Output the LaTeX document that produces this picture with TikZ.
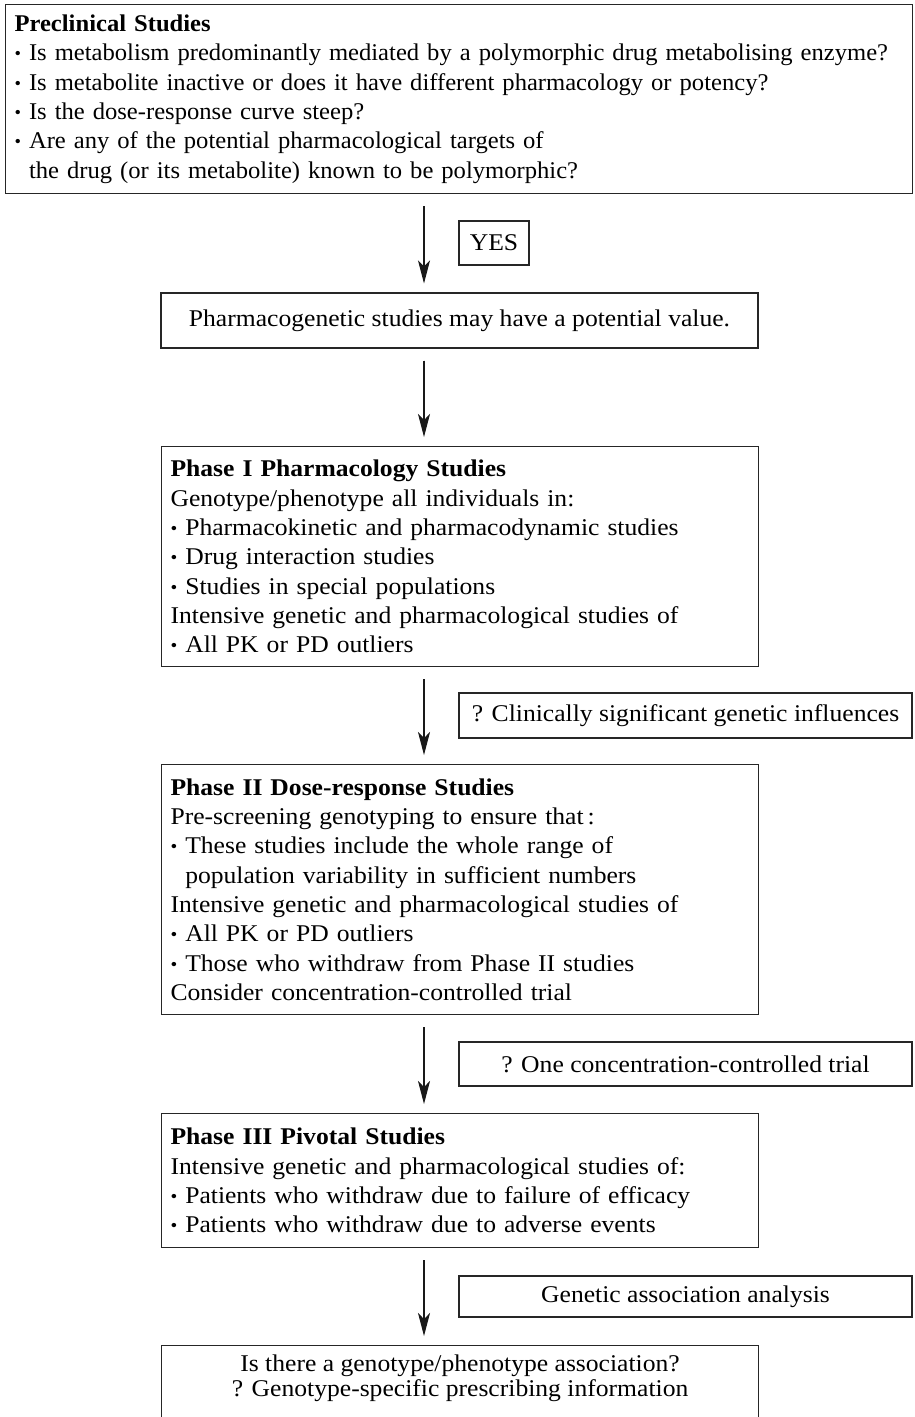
\documentclass[tikz,border=0pt]{standalone}
\usepackage{graphicx}
\usepackage{fontspec}
\setmainfont[FakeStretch=1.067]{Liberation Serif}
\newfontfamily\topfont[FakeStretch=1.025]{Liberation Serif}
\usetikzlibrary{arrows.meta}
\newcommand{\bul}{\raisebox{0.04em}{\scalebox{0.75}{\textbullet}}\ }
\newcommand{\bulind}{\phantom{\bul}}
\tikzset{
  box/.style={draw=black!85, line width=1.1pt, inner xsep=9pt, inner ysep=0pt,
    font=\fontsize{24}{29.3}\selectfont, align=left, anchor=north west},
  lab/.style={draw=black!85, line width=1.1pt, inner sep=0pt,
    font=\fontsize{24}{29.3}\selectfont, align=center},
  arr/.style={-{Stealth[length=23pt,width=12pt,inset=6pt]}, line width=1.1pt,
    draw=black!90, fill=black!90, shorten <=12pt, shorten >=9pt}
}
\begin{document}
\begin{tikzpicture}[x=1pt,y=-1pt]
\clip (0,0) rectangle (914,1417);
\fill[white] (0,0) rectangle (914,1417);
\coordinate (ax) at (424,0);

\node[box, text width=889pt, minimum height=189pt,
  font=\topfont\fontsize{24}{29.3}\selectfont] (pre) at (5,4) {%
\textbf{Preclinical Studies}\\
\mbox{\bul Is metabolism predominantly mediated by a polymorphic drug metabolising enzyme?}\\
\mbox{\bul Is metabolite inactive or does it have different pharmacology or potency?}\\
\bul Is the dose-response curve steep?\\
\bul Are any of the potential pharmacological targets of\\
\bulind the drug (or its metabolite) known to be polymorphic?};

\node[lab, minimum width=70pt, minimum height=44pt] (yes) at (494,243) {YES};

\node[lab, minimum width=597pt, minimum height=55pt] (pharm) at (459.5,320.5)
  {Pharmacogenetic studies may have a potential value.};

\node[box, text width=579pt, minimum height=220pt] (ph1) at (161,446) {%
\textbf{Phase I Pharmacology Studies}\\
Genotype/phenotype all individuals in:\\
\bul Pharmacokinetic and pharmacodynamic studies\\
\bul Drug interaction studies\\
\bul Studies in special populations\\
Intensive genetic and pharmacological studies of\\
\bul All PK or PD outliers};

\node[lab, minimum width=453pt, minimum height=45pt] (l3) at (685.5,715.5)
  {? Clinically significant genetic influences};

\node[box, text width=579pt, minimum height=250pt] (ph2) at (161,764) {%
\textbf{Phase II Dose-response Studies}\\
Pre-screening genotyping to ensure that\,:\\
\bul These studies include the whole range of\\
\bulind population variability in sufficient numbers\\
Intensive genetic and pharmacological studies of\\
\bul All PK or PD outliers\\
\bul Those who withdraw from Phase II studies\\
Consider concentration-controlled trial};

\node[lab, minimum width=453pt, minimum height=44pt] (l4) at (685.5,1064)
  {? One concentration-controlled trial};

\node[box, text width=579pt, minimum height=134pt] (ph3) at (161,1113) {%
\textbf{Phase III Pivotal Studies}\\
Intensive genetic and pharmacological studies of:\\
\bul Patients who withdraw due to failure of efficacy\\
\bul Patients who withdraw due to adverse events};

\node[lab, minimum width=453pt, minimum height=41pt] (l5) at (685.5,1296.5)
  {Genetic association analysis};

\node[draw=black!85, line width=1.1pt, inner sep=0pt, minimum width=597pt,
  minimum height=110pt, anchor=north west] (bot) at (161,1345) {};
\node[lab, draw=none, font=\fontsize{24}{25}\selectfont, anchor=north] (bottxt)
  at ([yshift=-9pt]bot.north)
  {Is there a genotype/phenotype association?\\? Genotype-specific prescribing information};

\draw[arr] (pre.south -| ax) -- (pharm.north -| ax);
\draw[arr] (pharm.south -| ax) -- (ph1.north -| ax);
\draw[arr] (ph1.south -| ax) -- (ph2.north -| ax);
\draw[arr] (ph2.south -| ax) -- (ph3.north -| ax);
\draw[arr] (ph3.south -| ax) -- (bot.north -| ax);
\end{tikzpicture}
\end{document}
